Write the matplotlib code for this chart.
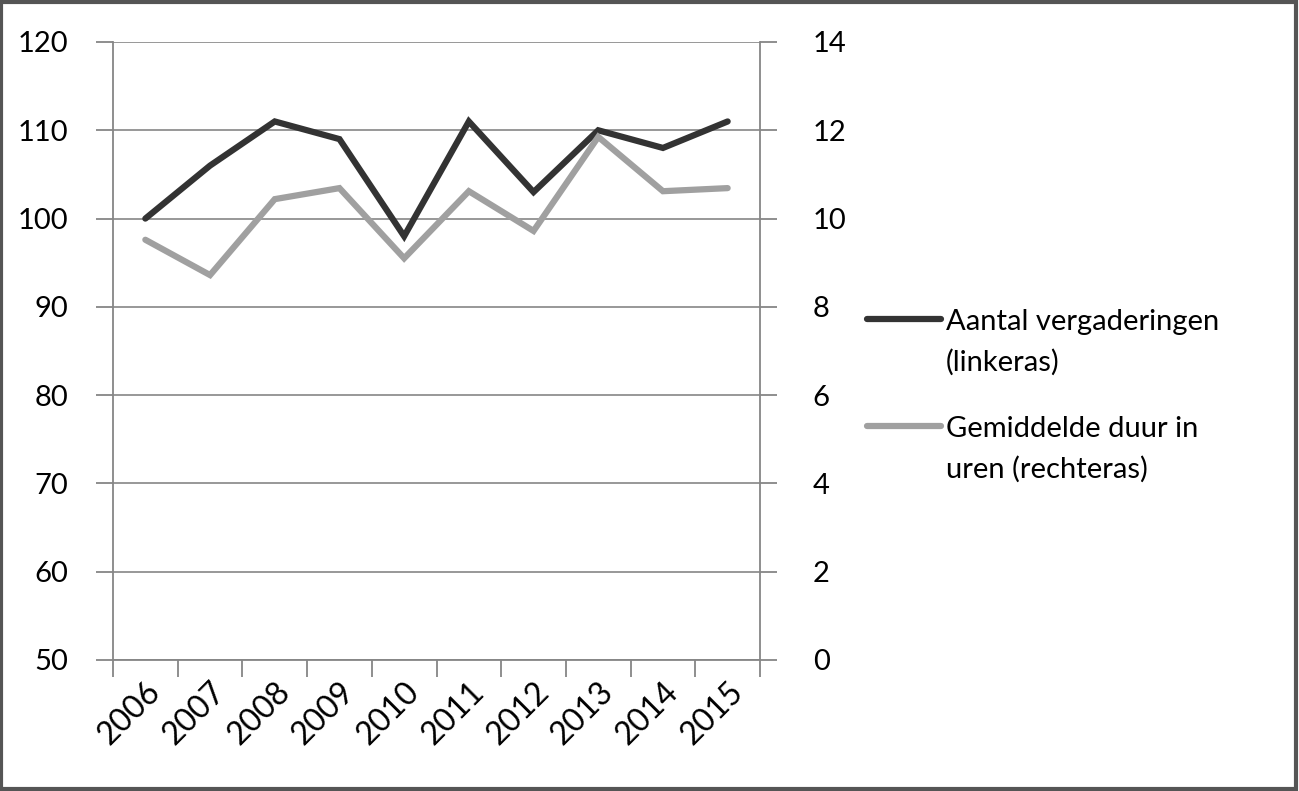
import matplotlib.pyplot as plt
from matplotlib.patches import Rectangle
from matplotlib.lines import Line2D

# Data
years = ['2006', '2007', '2008', '2009', '2010', '2011', '2012', '2013', '2014', '2015']
meetings = [100, 106, 111, 109, 98, 111, 103, 110, 108, 111]
duration = [9.52, 8.72, 10.44, 10.69, 9.1, 10.62, 9.72, 11.85, 10.62, 10.69]
left_ticks = [50, 60, 70, 80, 90, 100, 110, 120]
right_ticks = [0, 2, 4, 6, 8, 10, 12, 14]
labels = ['Aantal vergaderingen\n(linkeras)', 'Gemiddelde duur in\nuren (rechteras)']

plt.rcParams['font.family'] = ['Lato', 'DejaVu Sans']
axis_col = '#868686'
W, H = 1299, 791

fig = plt.figure(figsize=(W / 100, H / 100), dpi=100)
ax = fig.add_axes([113 / W, 1 - 660 / H, (760 - 113) / W, (660 - 42) / H])
ax2 = ax.twinx()

x = list(range(len(years)))
l1, = ax.plot(x, meetings, color='#333333', lw=4.5, solid_capstyle='round', solid_joinstyle='miter', zorder=3)
l2, = ax2.plot(x, duration, color='#a0a0a0', lw=4.5, solid_capstyle='round', solid_joinstyle='miter', zorder=2)

ax.set_xlim(-0.5, len(years) - 0.5)
ax.set_ylim(50, 120)
ax2.set_ylim(0, 14)
ax.set_yticks(left_ticks)
ax2.set_yticks(right_ticks)
ax.set_xticks(x)
ax.set_xticklabels(years, rotation=45, ha='right', rotation_mode='anchor')
ax.set_xticks([i - 0.5 for i in range(len(years) + 1)], minor=True)

ax.yaxis.grid(True, color=axis_col, lw=1.2)
ax.set_axisbelow(True)

for a in (ax, ax2):
    a.spines['top'].set_visible(False)
    for s in ('left', 'right', 'bottom'):
        a.spines[s].set_color(axis_col)
        a.spines[s].set_linewidth(1.3)
ax.spines['right'].set_visible(False)
ax2.spines['left'].set_visible(False)
ax2.spines['bottom'].set_visible(False)

ax.tick_params(axis='x', which='major', length=0, labelsize=23, pad=12)
ax.tick_params(axis='x', which='minor', length=12, color=axis_col, width=1.3)
ax.tick_params(axis='y', length=12, color=axis_col, width=1.3, labelsize=21, pad=20)
ax2.tick_params(axis='y', length=12, color=axis_col, width=1.3, labelsize=21, pad=26)

# legend drawn by hand so the handle sits on the first text line
for line, label, yh_px in zip([l1, l2], labels, [319, 426]):
    yh = 1 - yh_px / H
    fig.add_artist(Line2D([867 / W, 941 / W], [yh, yh], transform=fig.transFigure,
                          color=line.get_color(), lw=4.5, solid_capstyle='round'))
    fig.text(946 / W, 1 - (yh_px - 10) / H, label, fontsize=21, va='top', ha='left',
             linespacing=1.65)

fig.patches.append(Rectangle((0.001, 0.002), 0.997, 0.995, transform=fig.transFigure,
                             fill=False, edgecolor='#555555', lw=3))

fig.savefig('out.png', dpi=100)
